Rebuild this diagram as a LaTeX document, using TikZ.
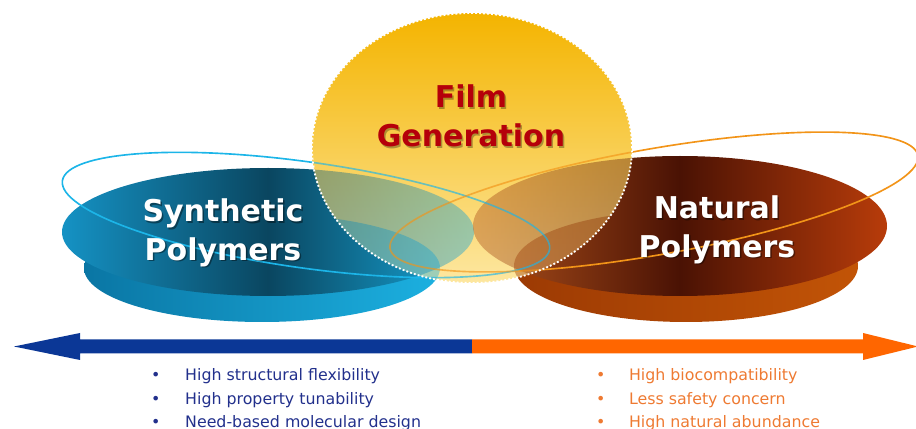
\documentclass[tikz,border=0pt]{standalone}
\usepackage{fontspec}
\setmainfont{DejaVu Sans}
\usetikzlibrary{calc}

\definecolor{ylwtop}{HTML}{F4B400}
\definecolor{ylwbot}{HTML}{FDE7A0}
\definecolor{bluetopL}{HTML}{1592C4}
\definecolor{bluetopM}{HTML}{0A4660}
\definecolor{bluetopR}{HTML}{17A8DA}
\definecolor{bluesideL}{HTML}{0A76A4}
\definecolor{bluesideR}{HTML}{1CB0E0}
\definecolor{browntopL}{HTML}{B0521C}
\definecolor{browntopM}{HTML}{4A1204}
\definecolor{browntopR}{HTML}{B83C0A}
\definecolor{brownsideL}{HTML}{9C3A04}
\definecolor{brownsideR}{HTML}{C25406}
\definecolor{cyanring}{HTML}{1CB5E8}
\definecolor{orangering}{HTML}{F29418}
\definecolor{filmred}{HTML}{B5000A}
\definecolor{arrblue}{HTML}{0B3796}
\definecolor{arrorange}{HTML}{FF6600}
\definecolor{synblue}{HTML}{22308C}
\definecolor{natorange}{HTML}{EE7A32}

% the two plates: side band first, then the top face
\newcommand\plates{%
  \shade[left color=bluesideL, right color=bluesideR] (262,-268) ellipse [x radius=178, y radius=54];
  \shade[left color=bluetopL, right color=bluetopR, middle color=bluetopM] (268,-232) ellipse [x radius=206, y radius=64];
  \shade[left color=brownsideL, right color=brownsideR] (686,-266) ellipse [x radius=172, y radius=56];
  \shade[left color=browntopL, right color=browntopR, middle color=browntopM] (680,-226) ellipse [x radius=207, y radius=70];
}
% thin tilted orbits
\newcommand\orbits{%
  \draw[ring, cyanring, rotate around={-8:(306,-215)}] (306,-215) ellipse [x radius=246, y radius=53];
  \draw[ring, orangering, rotate around={10:(654,-202)}] (654,-202) ellipse [x radius=268, y radius=53];
}

\begin{document}
\begin{tikzpicture}[x=0.03cm, y=0.03cm,
  ttl/.style={font=\fontsize{25.6}{33}\selectfont\bfseries, align=center, inner sep=0},
  ring/.style={line width=1.4pt},
  bul/.style={font=\fontsize{13.5}{16}\selectfont, anchor=base west, inner sep=0}]
\useasboundingbox (0,0) rectangle (916,-429);

\plates
\orbits

% film circle, with the plates showing through it
\shade[top color=ylwtop, bottom color=ylwbot] (472,-148) ellipse [x radius=160, y radius=135];
\begin{scope}
\clip (472,-148) ellipse [x radius=160, y radius=135];
\begin{scope}[opacity=.42]
\plates
\end{scope}
\begin{scope}[opacity=.65]
\orbits
\end{scope}
\end{scope}
\draw[white, line width=1.6pt, dash pattern=on 1.6pt off 1.8pt] (472,-148) ellipse [x radius=160, y radius=135];

% titles, each with a soft shadow
\node[ttl, text=black, opacity=.3] (filmsh) at (472.5,-117.5) {Film\\Generation};
\node[ttl, text=filmred] (filmttl) at (471,-116) {Film\\Generation};
\node[ttl, text=black, opacity=.4] (synsh) at (224.5,-234.5) {Synthetic\\Polymers};
\node[ttl, text=white] (synttl) at (223,-233) {Synthetic\\Polymers};
\node[ttl, text=black, opacity=.4] (natsh) at (718.5,-231.5) {Natural\\Polymers};
\node[ttl, text=white] (natttl) at (717,-230) {Natural\\Polymers};

% double arrow, split in the middle
\coordinate (mid) at (472,-346.5);
\fill[arrblue] (mid) ++(0,7) -- (80,-339.5) -- (80,-333) -- (14,-346.5) -- (80,-360) -- (80,-353.5) -- ($(mid)+(0,-7)$) -- cycle;
\fill[arrorange] (mid) ++(0,7) -- (863,-339.5) -- (863,-333) -- (918,-346.5) -- (863,-360) -- (863,-353.5) -- ($(mid)+(0,-7)$) -- cycle;

% bullet lists
\foreach \t [count=\i] in {High structural flexibility, High property tunability, Need-based molecular design}
  \node[bul, text=synblue] (syn\i) at (151,{-358-23*\i}) {\makebox[29pt][l]{\textbullet}\t};
\foreach \t [count=\i] in {High biocompatibility, Less safety concern, High natural abundance}
  \node[bul, text=natorange] (nat\i) at (596,{-358-23*\i}) {\makebox[28pt][l]{\textbullet}\t};
\end{tikzpicture}
\end{document}
